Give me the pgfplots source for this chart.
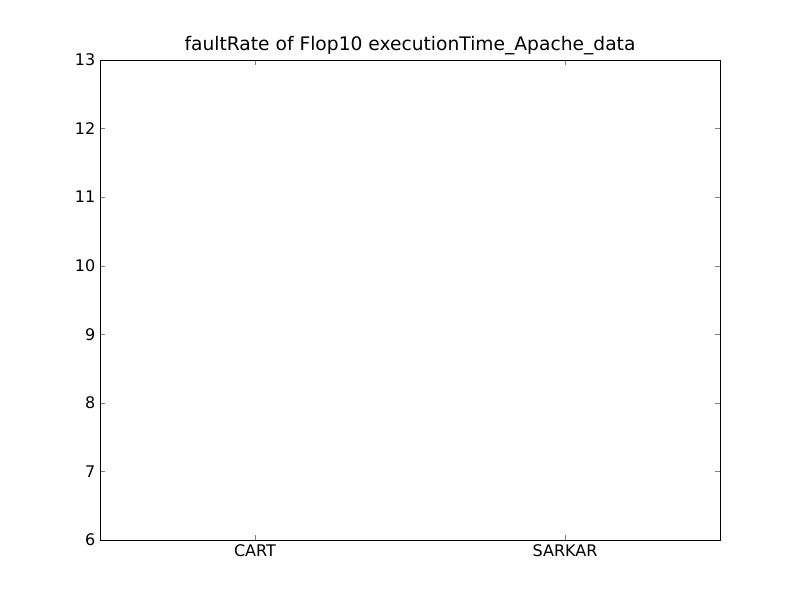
\documentclass[border=0pt]{standalone}
\usepackage{pgfplots}
\pgfplotsset{compat=1.18}
\usepgfplotslibrary{statistics}
\usepackage{fontspec}
\setmainfont{DejaVu Sans}
\begin{document}
\begin{tikzpicture}
\path (-75pt,-45pt) rectangle (525pt,405pt);
\begin{axis}[
  at={(0,0)}, anchor=south west,
  scale only axis, width=465pt, height=360pt,
  xmin=0.5, xmax=2.5, ymin=6, ymax=13,
  xtick={1,2}, xticklabels={CART,SARKAR},
  ytick={6,7,...,13},
  tick align=inside, tick pos=both,
  major tick length=4pt,
  font=\fontsize{12}{14}\selectfont,
  /pgf/number format/assume math mode=true,
  title={faultRate of Flop10 executionTime\_Apache\_data},
  title style={font=\fontsize{14}{16}\selectfont, yshift=-6pt},
  boxplot/box extend=0.15,
  boxplot/whisker extend=0.084,
]
\addplot[blue, mark=+, mark options={solid,blue},
  boxplot prepared={draw position=1, median=7.91, lower quartile=7.49, upper quartile=9.22, lower whisker=6.79, upper whisker=10.64},
  boxplot/every whisker/.style={dashed,blue},
  boxplot/every median/.style={red,solid},
  boxplot/every box/.style={solid,blue},
] table[row sep=\\, y index=0, header=false]{12.90\\};
\addplot[blue, mark=+, mark options={solid,blue},
  boxplot prepared={draw position=2, median=7.40, lower quartile=7.24, upper quartile=7.68, lower whisker=6.83, upper whisker=7.74},
  boxplot/every whisker/.style={dashed,blue},
  boxplot/every median/.style={red,solid},
  boxplot/every box/.style={solid,blue},
] table[row sep=\\, y index=0, header=false]{8.86\\};
\end{axis}
\end{tikzpicture}
\end{document}
